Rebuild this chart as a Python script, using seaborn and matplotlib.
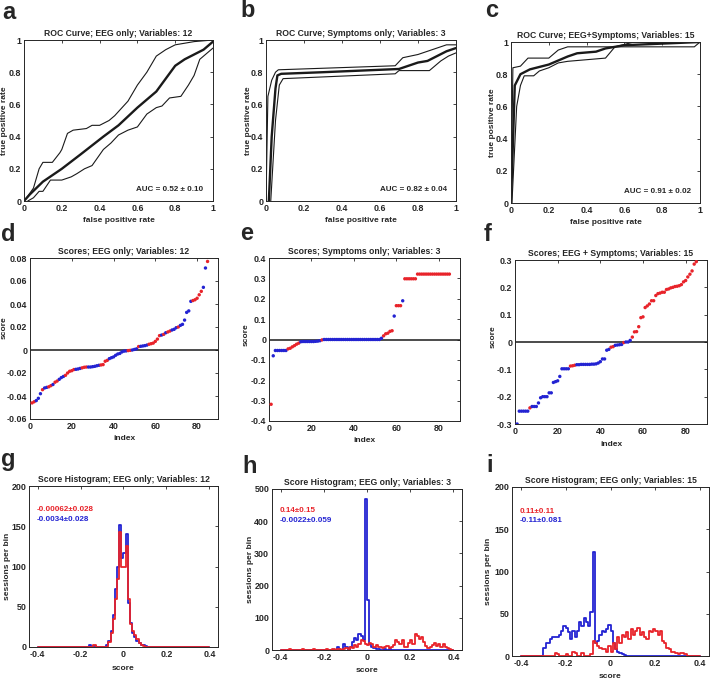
import numpy as np
import pandas as pd
import matplotlib
matplotlib.use("Agg")
import matplotlib.pyplot as plt
from matplotlib.ticker import FuncFormatter
import seaborn as sns

RED = "#e8232a"
BLUE = "#2323d2"

# ---- ROC curves (mean, upper, lower) ----
a_mean_fpr = [0, 0.03, 0.1, 0.2, 0.3, 0.42, 0.5, 0.6, 0.7, 0.75, 0.8, 0.85, 0.9, 0.95, 1.0]
a_mean_tpr = [0, 0.04, 0.12, 0.2, 0.29, 0.4, 0.47, 0.58, 0.68, 0.76, 0.84, 0.88, 0.91, 0.94, 0.99]
a_up_fpr = [0, 0.02, 0.05, 0.08, 0.1, 0.15, 0.19, 0.2, 0.23, 0.26, 0.33, 0.36, 0.4, 0.45, 0.48, 0.55, 0.6, 0.65, 0.7, 0.75, 0.8, 0.85, 0.9, 1.0]
a_up_tpr = [0, 0.03, 0.08, 0.2, 0.24, 0.24, 0.3, 0.32, 0.42, 0.44, 0.45, 0.47, 0.47, 0.5, 0.53, 0.62, 0.72, 0.8, 0.9, 0.94, 0.97, 0.98, 0.99, 1.0]
a_lo_fpr = [0.02, 0.05, 0.08, 0.1, 0.14, 0.2, 0.25, 0.28, 0.32, 0.36, 0.42, 0.46, 0.5, 0.55, 0.6, 0.65, 0.7, 0.73, 0.77, 0.83, 0.87, 0.9, 0.93, 1.0]
a_lo_tpr = [0, 0.02, 0.06, 0.06, 0.13, 0.13, 0.15, 0.17, 0.2, 0.22, 0.32, 0.36, 0.41, 0.44, 0.46, 0.54, 0.58, 0.59, 0.64, 0.65, 0.72, 0.78, 0.88, 0.95]

b_mean_fpr = [0.015, 0.03, 0.05, 0.06, 0.08, 0.3, 0.5, 0.7, 0.75, 0.8, 0.85, 0.9, 0.95, 1.0]
b_mean_tpr = [0, 0.4, 0.7, 0.78, 0.79, 0.8, 0.81, 0.82, 0.84, 0.86, 0.87, 0.9, 0.93, 0.95]
b_up_fpr = [0, 0.01, 0.03, 0.05, 0.065, 0.68, 0.72, 0.8, 0.85, 0.9, 0.95, 1.0]
b_up_tpr = [0, 0.65, 0.75, 0.8, 0.815, 0.84, 0.89, 0.91, 0.93, 0.95, 0.97, 0.97]
b_lo_fpr = [0.025, 0.05, 0.07, 0.09, 0.68, 0.7, 0.86, 0.92, 0.96, 1.0]
b_lo_tpr = [0, 0.5, 0.72, 0.76, 0.79, 0.81, 0.81, 0.87, 0.9, 0.92]

c_mean_fpr = [0, 0.02, 0.05, 0.1, 0.2, 0.3, 0.35, 0.45, 0.5, 0.6, 0.8, 1.0]
c_mean_tpr = [0, 0.73, 0.8, 0.83, 0.86, 0.91, 0.93, 0.94, 0.96, 0.98, 0.99, 1.0]
c_up_fpr = [0, 0.01, 0.05, 0.09, 0.2, 0.25, 0.3, 0.55, 0.65, 1.0]
c_up_tpr = [0, 0.84, 0.85, 0.9, 0.9, 0.95, 0.97, 0.97, 1.0, 1.0]
c_lo_fpr = [0.005, 0.03, 0.05, 0.07, 0.12, 0.15, 0.2, 0.25, 0.3, 0.5, 0.55, 0.97, 1.0]
c_lo_tpr = [0, 0.6, 0.73, 0.79, 0.79, 0.82, 0.84, 0.87, 0.88, 0.9, 0.97, 0.97, 1.0]

auc_labels = ["AUC = 0.52 \u00b1 0.10", "AUC = 0.82 \u00b1 0.04", "AUC = 0.91 \u00b1 0.02"]

# ---- sorted scores (r = red class, b = blue class) ----
d_scores = [-0.046, -0.045, -0.044, -0.042, -0.038, -0.0345, -0.033, -0.0325, -0.032, -0.031,
            -0.030, -0.028, -0.027, -0.0255, -0.024, -0.023, -0.022, -0.020, -0.0185, -0.018,
            -0.017, -0.0168, -0.0165, -0.016, -0.0155, -0.015, -0.0148, -0.0148, -0.0148, -0.0145,
            -0.0142, -0.0137, -0.0133, -0.013, -0.0127, -0.0098, -0.009, -0.0075, -0.0067, -0.006,
            -0.0046, -0.0035, -0.003, -0.0017, -0.001, -0.0008, -0.0005, -0.0003, 0.0, 0.0005,
            0.001, 0.003, 0.0032, 0.0035, 0.0038, 0.0043, 0.005, 0.0055, 0.006, 0.0075,
            0.0095, 0.0125, 0.013, 0.0136, 0.015, 0.0157, 0.0165, 0.0174, 0.018, 0.0194,
            0.020, 0.0214, 0.0223, 0.026, 0.0327, 0.034, 0.0423, 0.043, 0.0437, 0.045,
            0.048, 0.051, 0.0545, 0.0713, 0.077]
d_class = "rrbbbrbbrr" "brrbbbrrrr" "rbbbrrrbbb" "bbbrrrrbbb" "bbbbbbrrbb" "brbbbbrrrr" "rrbrbrrbbb" "rbbbbbbrrr" "rrbbr"

e_scores = [-0.318, -0.08, -0.054, -0.054, -0.054, -0.054, -0.054, -0.054, -0.046, -0.043,
            -0.036, -0.03, -0.023, -0.018, -0.011, -0.01, -0.01, -0.01, -0.01, -0.01,
            -0.01, -0.009, -0.008, -0.006, -0.002, 0, 0, 0, 0, 0,
            0, 0, 0, 0, 0, 0, 0, 0, 0, 0,
            0, 0, 0, 0, 0, 0, 0, 0, 0, 0,
            0, 0, 0.006, 0.018, 0.028, 0.031, 0.04, 0.043, 0.115, 0.166,
            0.166, 0.166, 0.19, 0.298, 0.298, 0.298, 0.298, 0.298, 0.298, 0.321,
            0.321, 0.321, 0.321, 0.321, 0.321, 0.321, 0.321, 0.321, 0.321, 0.321,
            0.321, 0.321, 0.321, 0.321, 0.321]
e_class = "rbbbbbbbrr" "rrrrbbbbbb" "bbbbrbbbbb" "bbbbbbbbbb" "bbbbbbbbbb" "bbbrrrrrbr" "rrbrrrrrrr" "rrrrrrrrrr" "rrrrr"

f_scores = [-0.3, -0.253, -0.253, -0.253, -0.253, -0.253, -0.241, -0.236, -0.236, -0.236,
            -0.223, -0.204, -0.2, -0.2, -0.2, -0.186, -0.186, -0.148, -0.145, -0.142,
            -0.126, -0.098, -0.098, -0.098, -0.098, -0.088, -0.087, -0.085, -0.083, -0.083,
            -0.082, -0.082, -0.082, -0.082, -0.082, -0.081, -0.081, -0.080, -0.077, -0.072,
            -0.062, -0.062, -0.03, -0.027, -0.019, -0.017, -0.012, -0.011, -0.01, -0.009,
            -0.002, 0.0, 0.0, 0.006, 0.018, 0.037, 0.038, 0.056, 0.089, 0.092,
            0.126, 0.132, 0.139, 0.151, 0.151, 0.17, 0.177, 0.179, 0.182, 0.182,
            0.192, 0.194, 0.198, 0.2, 0.203, 0.204, 0.206, 0.21, 0.22, 0.225,
            0.238, 0.248, 0.26, 0.285, 0.294]
f_class = "bbbbbbrbbb" "bbbbbbbbbb" "bbbbbrrrbb" "bbbbbbbbbb" "bbbbrrbbbb" "rbbbrrrrrr" "rrrrrrrrrr" "rrrrrrrrrr" "rrrrr"

# ---- score histograms: first bin left edge + counts per 0.01 bin ----
g_blue_start = -0.16
g_blue = [2, 0, 1, 0, 0, 0, 0, 0, 2, 8, 20, 40, 72, 100, 152, 110, 117, 140, 55, 30, 18, 12, 8, 5, 3, 2, 1]
g_red_start = -0.14
g_red = [2, 0, 0, 0, 0, 0, 0, 6, 18, 35, 60, 85, 143, 100, 100, 125, 60, 28, 20, 15, 10, 5, 3, 1]

h_blue_start = -0.14
h_blue = [8, 0, 0, 20, 10, 0, 10, 25, 38, 30, 50, 42, 30, 470, 155, 20, 10, 5, 3, 2, 0, 0, 2, 0, 2]
h_red_start = -0.40
h_red = [1, 0, 1, 0, 2, 0, 1, 0, 1, 0, 2, 1, 0, 1, 0, 2, 1, 0, 1, 0, 0, 3, 0, 1, 2,
         1, 3, 2, 0, 3, 5, 2, 8, 5, 15, 10, 20, 30, 28, 20,
         15, 22, 20, 10, 15, 8, 10, 5, 8, 12, 5, 10, 15, 30, 25, 18, 30, 10, 8, 22,
         30, 20, 50, 45, 35, 40, 25, 12, 5, 8, 15, 22, 12, 20, 10, 18, 8, 5, 2, 1]

i_blue_start = -0.30
i_blue = [10, 15, 15, 20, 22, 22, 22, 25, 30, 35, 33, 28, 20, 30, 22, 30, 40, 35, 45, 40,
          35, 52, 123, 15, 18, 25, 30, 28, 32, 37, 30, 15, 8, 5, 3, 2, 1]
i_red_start = -0.25
i_red = [3, 2, 0, 0, 0, 2, 0, 0, 5, 3, 0, 0, 3, 0, 0, 0, 2, 18, 15, 12, 10, 8, 8, 5, 12,
         5, 15, 8, 22, 15, 25, 22, 28, 20, 32, 25, 30, 33, 25, 28, 22, 20, 30, 28, 32,
         30, 25, 30, 18, 15, 10, 8, 5, 5, 3, 2, 3, 4, 2]

hist_means = [("-0.00062\u00b10.028", "-0.0034\u00b10.028"),
              ("0.14\u00b10.15", "-0.0022\u00b10.059"),
              ("0.11\u00b10.11", "-0.11\u00b10.081")]

sns.set_theme(style="white")
plt.rcParams["font.family"] = ["Liberation Sans", "DejaVu Sans"]
plt.rcParams["axes.unicode_minus"] = False

TICK_FS = 6.4
LABEL_FS = 6.0
TITLE_FS = 6.2
NOTE_FS = 5.8
INK = "#262626"
fmt = FuncFormatter(lambda v, p: f"{round(v, 4):g}")
W, H = 710.0, 680.0


def px_axes(fig, left, top, right, bottom):
    return fig.add_axes([left / W, 1 - bottom / H, (right - left) / W, (bottom - top) / H])


def style(ax, box, xlim, ylim, xticks, yticks, xlabel, ylabel, title, ylab_dx, ylab_y=0.5, xlab_dy=19):
    left, top, right, bottom = box
    wpx, hpx = right - left, bottom - top
    ax.set_xlim(xlim)
    ax.set_ylim(ylim)
    ax.set_xticks(xticks)
    ax.set_yticks(yticks)
    ax.xaxis.set_major_formatter(fmt)
    ax.yaxis.set_major_formatter(fmt)
    ax.tick_params(direction="in", top=True, right=True, length=2.5, width=0.6,
                   labelsize=TICK_FS, pad=2, colors=INK)
    for lab in ax.get_xticklabels() + ax.get_yticklabels():
        lab.set_fontweight("bold")
    for s in ax.spines.values():
        s.set_linewidth(0.7)
        s.set_color(INK)
    ax.set_xlabel(xlabel, fontsize=LABEL_FS, fontweight="bold", color=INK, va="center")
    ax.set_ylabel(ylabel, fontsize=LABEL_FS, fontweight="bold", color=INK, va="center")
    ax.xaxis.set_label_coords(0.5, -xlab_dy / hpx)
    ax.yaxis.set_label_coords(ylab_dx / wpx, ylab_y)
    ax.set_title(title, fontsize=TITLE_FS, fontweight="bold", pad=3)


fig = plt.figure(figsize=(7.1, 6.8), dpi=100)

# ROC row
roc_boxes = [(24, 40, 213, 201), (266, 40, 456, 201), (511, 42, 700, 203)]
roc_ylab_dx = [-19.5, -18, -19]
roc_titles = ["ROC Curve; EEG only; Variables: 12", "ROC Curve; Symptoms only; Variables: 3",
              "ROC Curve; EEG+Symptoms; Variables: 15"]
roc_data = [
    (a_mean_fpr, a_mean_tpr, a_up_fpr, a_up_tpr, a_lo_fpr, a_lo_tpr),
    (b_mean_fpr, b_mean_tpr, b_up_fpr, b_up_tpr, b_lo_fpr, b_lo_tpr),
    (c_mean_fpr, c_mean_tpr, c_up_fpr, c_up_tpr, c_lo_fpr, c_lo_tpr),
]
ticks01 = [0, 0.2, 0.4, 0.6, 0.8, 1.0]
for box, dx, title, data, auc in zip(roc_boxes, roc_ylab_dx, roc_titles, roc_data, auc_labels):
    ax = px_axes(fig, *box)
    mf, mt, uf, ut, lf, lt = data
    sns.lineplot(x=uf, y=ut, sort=False, estimator=None, color="k", linewidth=0.8, ax=ax)
    sns.lineplot(x=lf, y=lt, sort=False, estimator=None, color="k", linewidth=0.8, ax=ax)
    sns.lineplot(x=mf, y=mt, sort=False, estimator=None, color="k", linewidth=1.7, ax=ax)
    style(ax, box, (0, 1), (0, 1), ticks01, ticks01, "false positive rate", "true positive rate",
          title, dx)
    ax.text(0.95, 0.07, auc, transform=ax.transAxes, ha="right", va="center",
            fontsize=NOTE_FS, fontweight="bold")

# Scores row
score_boxes = [(30, 258, 218, 419), (269, 258, 460, 421), (515, 260, 707, 424)]
score_ylab = [(-26, 0.57), (-23, 0.53), (-22, 0.53)]
score_titles = ["Scores; EEG only; Variables: 12", "Scores; Symptoms only; Variables: 3",
                "Scores; EEG + Symptoms; Variables: 15"]
score_data = [(d_scores, d_class), (e_scores, e_class), (f_scores, f_class)]
score_ylims = [(-0.06, 0.08), (-0.4, 0.4), (-0.3, 0.3)]
score_yticks = [[-0.06, -0.04, -0.02, 0, 0.02, 0.04, 0.06, 0.08],
                [-0.4, -0.3, -0.2, -0.1, 0, 0.1, 0.2, 0.3, 0.4],
                [-0.3, -0.2, -0.1, 0, 0.1, 0.2, 0.3]]
for box, (dx, yy), title, (vals, cls), ylim, yt in zip(score_boxes, score_ylab, score_titles,
                                                      score_data, score_ylims, score_yticks):
    ax = px_axes(fig, *box)
    df = pd.DataFrame({"index": np.arange(1, len(vals) + 1), "score": vals, "cls": list(cls)})
    ax.axhline(0, color="k", linewidth=1.1, zorder=1)
    sns.scatterplot(data=df, x="index", y="score", hue="cls", palette={"r": RED, "b": BLUE},
                    s=6, linewidth=0, legend=False, ax=ax, zorder=3)
    style(ax, box, (0, 90), ylim, [0, 20, 40, 60, 80], yt, "index", "score", title, dx, yy, 20)

# Histogram row
n_bins = 80
centers = np.round(-0.4 + 0.005 + 0.01 * np.arange(n_bins), 4)


def hist_frame(start, counts):
    full = np.zeros(n_bins)
    i0 = int(round((start + 0.4) / 0.01))
    full[i0:i0 + len(counts)] = counts
    return pd.DataFrame({"score": centers, "n": full})


hist_boxes = [(29, 486, 218, 647), (272, 489, 462, 650), (512, 487, 709, 656)]
hist_ylab_dx = [-22, -21, -23]
hist_titles = ["Score Histogram; EEG only; Variables: 12", "Score Histogram; EEG only; Variables: 3",
               "Score Histogram; EEG only; Variables: 15"]
hist_data = [((g_blue_start, g_blue), (g_red_start, g_red)),
             ((h_blue_start, h_blue), (h_red_start, h_red)),
             ((i_blue_start, i_blue), (i_red_start, i_red))]
hist_ylims = [(0, 200), (0, 500), (0, 200)]
hist_yticks = [[0, 50, 100, 150, 200], [0, 100, 200, 300, 400, 500], [0, 50, 100, 150, 200]]
hist_text_y = [(171, 158), (432, 401), (171, 160)]
for box, dx, title, (bl, rd), ylim, yt, means, ty in zip(hist_boxes, hist_ylab_dx, hist_titles, hist_data,
                                                         hist_ylims, hist_yticks, hist_means, hist_text_y):
    ax = px_axes(fig, *box)
    for series, col in ((bl, BLUE), (rd, RED)):
        sns.histplot(data=hist_frame(*series), x="score", weights="n", binwidth=0.01,
                     binrange=(-0.4, 0.4), element="step", fill=False,
                     color=col, linewidth=1.3, ax=ax)
    style(ax, box, (-0.44, 0.44), ylim, [-0.4, -0.2, 0, 0.2, 0.4], yt, "score", "sessions per bin",
          title, dx, 0.5, 21)
    ax.text(-0.405, ty[0], means[0], color=RED, fontsize=NOTE_FS, fontweight="bold", va="center", ha="left")
    ax.text(-0.405, ty[1], means[1], color=BLUE, fontsize=NOTE_FS, fontweight="bold", va="center", ha="left")

# panel letters
letters = [("a", 2, 19), ("b", 240, 17), ("c", 485, 17),
           ("d", 1, 241), ("e", 240, 240), ("f", 484, 241),
           ("g", 1, 466), ("h", 242, 473), ("i", 486, 472)]
for ch, x, y in letters:
    fig.text(x / W, 1 - y / H, ch, fontsize=17, fontweight="bold", va="baseline", ha="left")

fig.savefig("out.png", dpi=100)
